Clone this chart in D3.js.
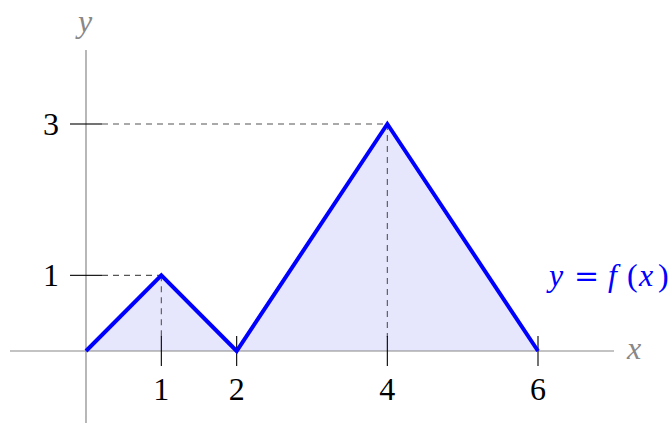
<!DOCTYPE html>
<html><head><meta charset="utf-8">
<script src="https://cdn.jsdelivr.net/npm/d3@7"></script>
<style>body{margin:0;background:#fff}svg{display:block}</style>
</head><body>
<script>
const xs = [0, 1, 2, 4, 6];
const ys = [0, 1, 0, 3, 0];
const xTicks = [1, 2, 4, 6];
const yTicks = [1, 3];
const guidePoints = [[1,1],[4,3]];

const W = 672, H = 423;
const x = d3.scaleLinear().domain([0, 6]).range([86, 538]);
const y = d3.scaleLinear().domain([0, 3]).range([351, 124]);
const svg = d3.select("body").append("svg").attr("width", W).attr("height", H);
const serif = "'Liberation Serif', 'DejaVu Serif', serif";
const pts = xs.map((v,i)=>[v, ys[i]]);

// fill
svg.append("path")
  .datum(pts)
  .attr("d", d3.area().x(d=>x(d[0])).y0(y(0)).y1(d=>y(d[1])))
  .attr("fill", "#e6e6fc");

// axes
svg.append("line").attr("x1", 10).attr("x2", 614).attr("y1", y(0)).attr("y2", y(0))
  .attr("stroke", "#888").attr("stroke-width", 1.2);
svg.append("line").attr("x1", x(0)).attr("x2", x(0)).attr("y1", 50).attr("y2", 423)
  .attr("stroke", "#888").attr("stroke-width", 1.2);

// guides
guidePoints.forEach(([a,b])=>{
  svg.append("line").attr("x1", x(0)+16).attr("x2", x(a)).attr("y1", y(b)).attr("y2", y(b))
    .attr("stroke", "#555").attr("stroke-width", 1.1).attr("stroke-dasharray", "6,5");
  svg.append("line").attr("x1", x(a)).attr("x2", x(a)).attr("y1", y(b)).attr("y2", y(0)-14)
    .attr("stroke", "#555").attr("stroke-width", 1.1).attr("stroke-dasharray", "6,5");
});

// ticks
xTicks.forEach(t=>{
  svg.append("line").attr("x1", x(t)).attr("x2", x(t)).attr("y1", y(0)-15).attr("y2", y(0)+15)
    .attr("stroke", "#000").attr("stroke-width", 1.1);
  svg.append("text").attr("x", x(t)).attr("y", 400).attr("text-anchor", "middle")
    .attr("font-family", serif).attr("font-size", 32).attr("fill", "#000").text(t);
});
yTicks.forEach(t=>{
  svg.append("line").attr("x1", x(0)-16).attr("x2", x(0)+16).attr("y1", y(t)).attr("y2", y(t))
    .attr("stroke", "#000").attr("stroke-width", 1.1);
  svg.append("text").attr("x", 59).attr("y", y(t)+11).attr("text-anchor", "end")
    .attr("font-family", serif).attr("font-size", 32).attr("fill", "#000").text(t);
});

// line
svg.append("path").datum(pts)
  .attr("d", d3.line().x(d=>x(d[0])).y(d=>y(d[1])))
  .attr("fill", "none").attr("stroke", "#0000ff").attr("stroke-width", 4)
  .attr("stroke-linejoin", "miter");

// axis labels
svg.append("text").attr("x", 85).attr("y", 32).attr("text-anchor", "middle")
  .attr("font-family", serif).attr("font-style", "italic").attr("font-size", 32).attr("fill", "#888").text("y");
svg.append("text").attr("x", 634).attr("y", 359).attr("text-anchor", "middle")
  .attr("font-family", serif).attr("font-style", "italic").attr("font-size", 32).attr("fill", "#888").text("x");

// function label
const lab = svg.append("text").attr("y", 286)
  .attr("font-family", serif).attr("font-size", 32).attr("fill", "#0000ff");
lab.append("tspan").attr("x", 549).attr("font-style", "italic").text("y");
lab.append("tspan").attr("x", 574).attr("font-family", "'DejaVu Serif', serif").attr("font-size", 30).text("=");
lab.append("tspan").attr("x", 608).attr("font-style", "italic").text("f");
lab.append("tspan").attr("x", 627).text("(");
lab.append("tspan").attr("x", 639).attr("font-style", "italic").text("x");
lab.append("tspan").attr("x", 658).text(")");
</script>
</body></html>
